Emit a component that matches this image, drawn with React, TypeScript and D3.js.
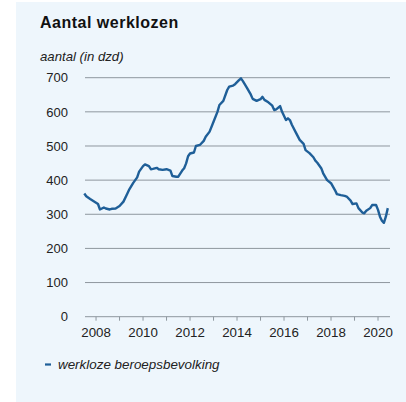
import React, { useEffect, useRef } from "react"
import * as d3 from "d3"

// werkloze beroepsbevolking, x 1000 (maand, aantal)
const months = [
    "2007-07", "2007-08", "2007-10", "2008-01", "2008-02", "2008-03", "2008-05", "2008-06",
    "2008-08", "2008-09", "2008-11", "2009-01", "2009-03", "2009-05", "2009-06", "2009-08",
    "2009-10", "2009-11", "2010-01", "2010-02", "2010-04", "2010-05", "2010-06", "2010-08",
    "2010-09", "2010-11", "2011-01", "2011-03", "2011-04", "2011-06", "2011-07", "2011-09",
    "2011-10", "2011-11", "2011-12", "2012-01", "2012-03", "2012-04", "2012-06", "2012-08",
    "2012-09", "2012-11", "2013-01", "2013-03", "2013-04", "2013-06", "2013-08", "2013-09",
    "2013-11", "2013-12", "2014-02", "2014-03", "2014-04", "2014-06", "2014-08", "2014-09",
    "2014-11", "2015-01", "2015-02", "2015-03", "2015-05", "2015-07", "2015-08", "2015-09",
    "2015-11", "2015-12", "2016-02", "2016-03", "2016-04", "2016-05", "2016-07", "2016-09",
    "2016-11", "2016-12", "2017-02", "2017-04", "2017-05", "2017-06", "2017-08", "2017-09",
    "2017-11", "2018-01", "2018-03", "2018-04", "2018-06", "2018-08", "2018-09", "2018-11",
    "2018-12", "2019-02", "2019-03", "2019-05", "2019-06", "2019-07", "2019-09", "2019-10",
    "2019-12", "2020-01", "2020-02", "2020-03", "2020-04", "2020-05", "2020-06",
]
const werklozen = [
    361, 353, 345, 334, 330, 314, 320, 317,
    314, 316, 317, 324, 337, 361, 373, 392,
    408, 425, 441, 446, 441, 432, 433, 436,
    432, 430, 432, 428, 412, 410, 410, 428,
    435, 449, 470, 478, 481, 500, 503, 515,
    527, 542, 571, 600, 620, 632, 664, 674,
    677, 681, 693, 698, 690, 671, 651, 638,
    632, 637, 644, 635, 628, 618, 605, 607,
    617, 600, 576, 581, 576, 562, 540, 518,
    506, 488, 479, 467, 457, 451, 435, 420,
    400, 391, 371, 359, 356, 354, 352, 340,
    330, 332, 318, 305, 303, 310, 318, 327,
    327, 313, 293, 281, 275, 293, 318,
]
const yTicks = [0, 100, 200, 300, 400, 500, 600, 700]
const years = d3.range(2008, 2021)
const yearLabels = [2008, 2010, 2012, 2014, 2016, 2018, 2020]

const width = 406
const height = 402
const lineColor = "#1f5f98"
const gridColor = "#8e979e"
const font = "'Liberation Sans', Arial, sans-serif"

export default function App() {
    const svgRef = useRef(null)

    useEffect(() => {
        if (!svgRef.current) return
        const svg = d3.select(svgRef.current)
        svg.selectAll("*").remove()

        const data = months.map((m, i) => {
            const [y, mo] = m.split("-").map(Number)
            return { t: y + (mo - 1) / 12, value: werklozen[i] }
        })

        const x = d3.scaleLinear().domain([2007.53, 2020.51]).range([85, 390])
        const y = d3.scaleLinear().domain([0, 700]).range([316.7, 77.7])

        // achtergrondvlak
        svg.append("rect")
            .attr("x", 16).attr("y", 2)
            .attr("width", width - 16).attr("height", height - 2)
            .attr("fill", "#eef6fc")

        svg.append("text")
            .attr("x", 40).attr("y", 27.5)
            .attr("font-family", font)
            .attr("font-size", 16)
            .attr("font-weight", "bold")
            .attr("letter-spacing", 0.5)
            .attr("fill", "#111")
            .text("Aantal werklozen")

        svg.append("text")
            .attr("x", 40).attr("y", 61)
            .attr("font-family", font)
            .attr("font-size", 13.2)
            .attr("font-style", "italic")
            .attr("fill", "#222")
            .text("aantal (in dzd)")

        // gridlijnen (0 is de as)
        svg.append("g")
            .selectAll("line")
            .data(yTicks.filter(d => d > 0))
            .join("line")
            .attr("x1", x.range()[0]).attr("x2", x.range()[1])
            .attr("y1", d => y(d)).attr("y2", d => y(d))
            .attr("stroke", gridColor)
            .attr("stroke-width", 1)

        svg.append("g")
            .selectAll("text")
            .data(yTicks)
            .join("text")
            .attr("x", 68)
            .attr("y", d => y(d))
            .attr("dy", "0.36em")
            .attr("text-anchor", "end")
            .attr("font-family", font)
            .attr("font-size", 13)
            .attr("fill", "#222")
            .text(d => d)

        // x-as
        const axis = svg.append("g")
        axis.append("line")
            .attr("x1", x.range()[0]).attr("x2", x.range()[1])
            .attr("y1", y(0)).attr("y2", y(0))
            .attr("stroke", gridColor)
        axis.selectAll("line.tick")
            .data(years)
            .join("line")
            .attr("class", "tick")
            .attr("x1", d => x(d)).attr("x2", d => x(d))
            .attr("y1", y(0)).attr("y2", y(0) + 4)
            .attr("stroke", gridColor)
        axis.selectAll("text")
            .data(yearLabels)
            .join("text")
            .attr("x", d => x(d))
            .attr("y", 336.5)
            .attr("text-anchor", "middle")
            .attr("font-family", font)
            .attr("font-size", 13.3)
            .attr("fill", "#222")
            .text(d => d)

        const line = d3.line<any>()
            .x(d => x(d.t))
            .y(d => y(d.value))
            .curve(d3.curveLinear)

        svg.append("path")
            .datum(data)
            .attr("d", line)
            .attr("fill", "none")
            .attr("stroke", lineColor)
            .attr("stroke-width", 2.4)
            .attr("stroke-linejoin", "round")

        // legenda
        svg.append("line")
            .attr("x1", 45).attr("x2", 51)
            .attr("y1", 364.5).attr("y2", 364.5)
            .attr("stroke", lineColor)
            .attr("stroke-width", 2.2)
        svg.append("text")
            .attr("x", 58).attr("y", 368.5)
            .attr("font-family", font)
            .attr("font-size", 13.4)
            .attr("font-style", "italic")
            .attr("fill", "#222")
            .text("werkloze beroepsbevolking")
    }, [])

    return (
        <svg ref={svgRef} width={width} height={height}
            style={{ position: "fixed", top: 0, left: 0, background: "#fff" }} />
    )
}
